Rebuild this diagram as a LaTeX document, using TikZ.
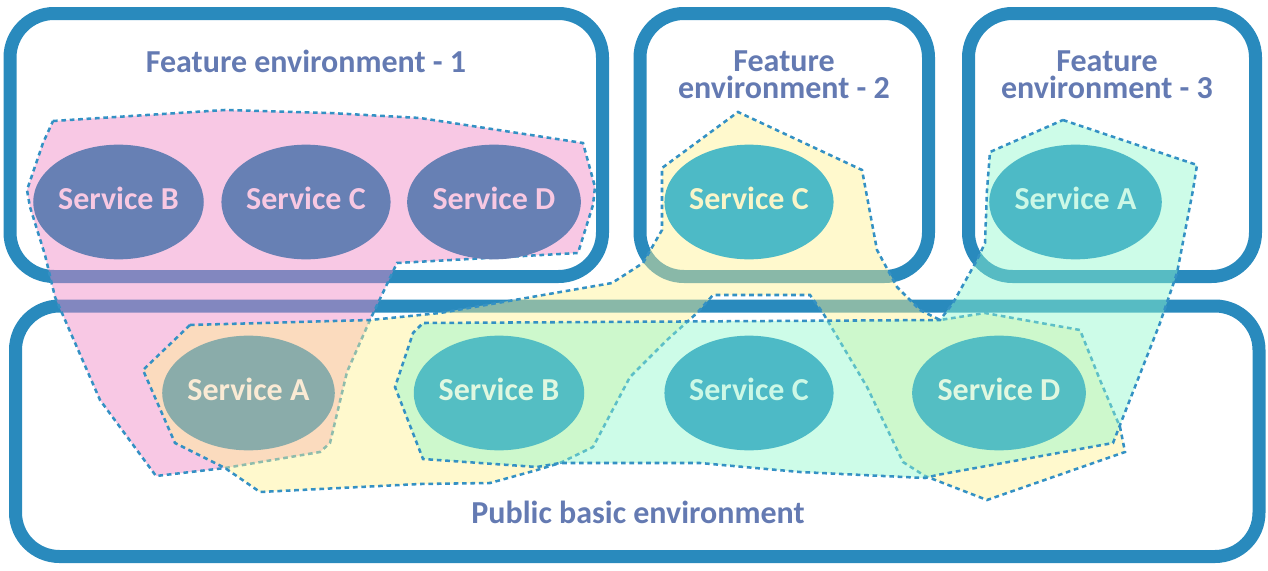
\documentclass[tikz,border=0pt]{standalone}
\usepackage{fontspec}
\setmainfont{Carlito}
\usetikzlibrary{shapes.geometric}
\definecolor{envblue}{RGB}{41,138,189}
\definecolor{titleblue}{RGB}{100,122,178}
\definecolor{dashblue}{RGB}{52,145,196}
\definecolor{cpink}{RGB}{239,133,195}
\definecolor{cyellow}{RGB}{255,242,144}
\definecolor{cmint}{RGB}{144,248,204}
\definecolor{slate}{RGB}{103,128,180}
\definecolor{svcteal}{RGB}{77,186,198}
\definecolor{svcgreen}{RGB}{84,190,195}
\definecolor{svcgrey}{RGB}{138,172,170}
\definecolor{txtpink}{RGB}{248,200,226}
\definecolor{txtyellow}{RGB}{250,245,200}
\definecolor{txtmint}{RGB}{204,248,230}
\definecolor{txtpale}{RGB}{224,248,224}
\definecolor{txtcream}{RGB}{250,234,212}

\begin{document}
\begin{tikzpicture}[x=0.75pt,y=-0.75pt,
  env box/.style={draw=envblue,line width=9.75pt,rounded corners=33pt},
  group/.style={draw=dashblue,line width=1.9pt,dash pattern=on 3.5pt off 2.8pt,fill opacity=0.45},
  svc node/.style={ellipse,minimum width=123pt,minimum height=86pt,inner sep=0pt,
    font=\fontsize{24}{28}\selectfont\bfseries,text depth=6pt},
  title node/.style={text=titleblue,font=\fontsize{24}{20}\selectfont\bfseries}]
  \useasboundingbox (0,0) rectangle (1268,571);

  \draw[env box] (10,13.5) rectangle (602.5,276.5);
  \draw[env box] (640,13.5) rectangle (928.5,276.5);
  \draw[env box] (968.5,13.5) rectangle (1255.5,276.5);
  \draw[env box] (15.5,306) rectangle (1259,556.5);

  % feature 1 + basic A
  \filldraw[group,fill=cpink] (53,121) -- (225,110) -- (330,113) -- (420,118) -- (583,143)
    -- (595,187) -- (593,205) -- (578,253) -- (397,263) -- (370,320) -- (347,372)
    -- (330,443) -- (320,452) -- (225,468) -- (156,476) -- (100,400) -- (55,297)
    -- (45,255) -- (30,207) -- (27,190) -- (43,143) -- cycle;
  % feature 2 + basic A, B, D
  \filldraw[group,fill=cyellow] (190,325) -- (370,320) -- (440,313) -- (612,283) -- (643,263)
    -- (662,230) -- (662,168) -- (738,112) -- (862,170) -- (877,250) -- (897,287)
    -- (920,310) -- (940,320) -- (985,313) -- (1080,330) -- (1100,380) -- (1120,427)
    -- (1125,452) -- (987,500) -- (925,476) -- (903,462) -- (867,387) -- (823,313)
    -- (810,295) -- (713,295) -- (697,313) -- (667,340) -- (630,377) -- (593,447)
    -- (560,463) -- (537,470) -- (490,483) -- (420,484) -- (260,492) -- (225,468)
    -- (175,443) -- (143,370) -- cycle;
  % feature 3 + basic B, C, D
  \filldraw[group,fill=cmint] (1063,120) -- (1197,165) -- (1193,190) -- (1177,273) -- (1160,323)
    -- (1120,425) -- (1113,443) -- (937,475) -- (925,478) -- (800,472) -- (700,463)
    -- (560,463) -- (537,467) -- (423,459) -- (395,387) -- (413,333) -- (423,323)
    -- (940,320) -- (953,303) -- (977,260) -- (985,243) -- (987,190) -- (990,152) -- cycle;

  \node[svc node,fill=slate,text=txtpink] (f1b) at (118.5,202) {Service B};
  \node[svc node,fill=slate,text=txtpink] (f1c) at (306,202) {Service C};
  \node[svc node,fill=slate,text=txtpink] (f1d) at (494,202) {Service D};
  \node[svc node,fill=svcteal,text=txtyellow] (f2c) at (749,202) {Service C};
  \node[svc node,fill=svcteal,text=txtmint] (f3a) at (1075.5,202) {Service A};
  \node[svc node,fill=svcgrey,text=txtcream] (pa) at (248.5,393) {Service A};
  \node[svc node,fill=svcgreen,text=txtpale] (pb) at (499,393) {Service B};
  \node[svc node,fill=svcteal,text=txtmint] (pc) at (749,393) {Service C};
  \node[svc node,fill=svcgreen,text=txtpale] (pd) at (999,393) {Service D};

  \node[title node,anchor=base] (t1) at (306,72) {Feature environment - 1};
  \node[title node,align=center] (t2) at (784,75) {Feature\\environment - 2};
  \node[title node,align=center] (t3) at (1107,75) {Feature\\environment - 3};
  \node[title node,anchor=base] (t0) at (638,523) {Public basic environment};
\end{tikzpicture}
\end{document}
